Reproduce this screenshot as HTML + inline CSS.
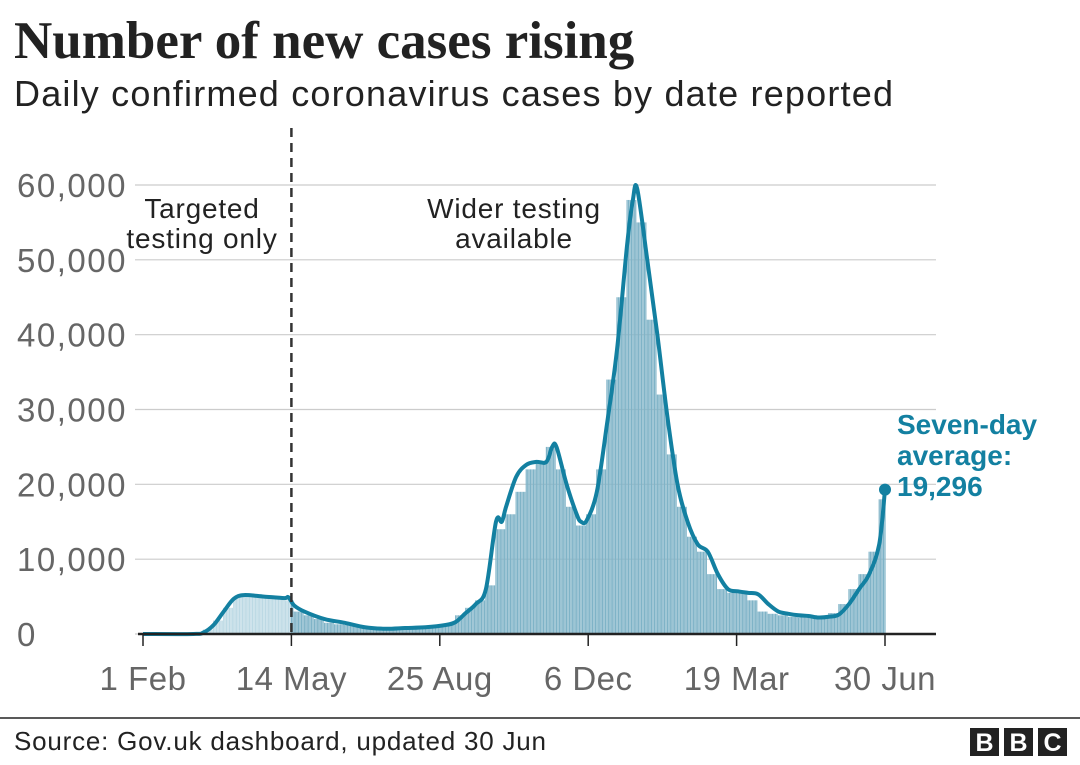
<!DOCTYPE html>
<html><head><meta charset="utf-8">
<style>
body{margin:0;background:#fff;width:1080px;height:760px;overflow:hidden;font-family:"Liberation Sans",sans-serif}
</style></head>
<body>
<svg id="chart" width="1080" height="760" xmlns="http://www.w3.org/2000/svg">
<text x="14" y="58" font-family="Liberation Serif,serif" font-weight="bold" font-size="53" fill="#222">Number of new cases rising</text>
<text x="14" y="106" font-size="36" fill="#222" textLength="879">Daily confirmed coronavirus cases by date reported</text>
<g id="grid"></g>
<g id="bars"></g>
<g id="line"></g>
<g id="axes"></g>
<line x1="0" y1="718" x2="1080" y2="718" stroke="#222" stroke-width="1.5"/>
<text x="14" y="750" font-size="26" fill="#222" textLength="532">Source: Gov.uk dashboard, updated 30 Jun</text>
<g>
<rect x="970" y="728" width="29" height="28" fill="#222"/><text x="984.5" y="751" font-size="25" font-weight="bold" fill="#fff" text-anchor="middle">B</text>
<rect x="1004" y="728" width="29" height="28" fill="#222"/><text x="1018.5" y="751" font-size="25" font-weight="bold" fill="#fff" text-anchor="middle">B</text>
<rect x="1038" y="728" width="29" height="28" fill="#222"/><text x="1052.5" y="751" font-size="25" font-weight="bold" fill="#fff" text-anchor="middle">C</text>
</g>
</svg>
<script>
const NS="http://www.w3.org/2000/svg";
const tickDays=[0,103,206,309,412,515];
const tickLabels=["1 Feb","14 May","25 Aug","6 Dec","19 Mar","30 Jun"];
const yTicks=[0,10000,20000,30000,40000,50000,60000];
const yTickLabels=["0","10,000","20,000","30,000","40,000","50,000","60,000"];
// weekly daily-case values (week k starts day 7k from 1 Feb 2020)
const weeklyCases=[0,0,0,0,0,100,600,1800,3500,5000,5200,5000,5000,4800,4500,3000,2500,2000,1500,1300,1200,1000,700,600,600,700,800,900,1000,1000,1300,2500,3500,4500,6500,14000,16000,19000,22000,23000,25000,22000,17000,14500,16000,22000,34000,45000,58000,55000,42000,32000,24000,17000,13000,11000,8000,6000,5500,5500,4500,3000,2700,2500,2300,2200,2200,2400,2800,4000,6000,8000,11000,18000];
// seven-day average points
const avgDays=[0,35,42,49,56,63,70,84,98,101,105,112,126,140,154,168,182,196,210,217,224,231,238,245,249,252,259,266,273,280,284,287,294,301,304,308,315,322,329,336,340,343,350,357,364,371,378,385,392,399,406,413,420,427,434,441,448,455,462,469,476,483,490,497,504,511,515];
const avgVals=[0,0,200,1200,3000,4700,5200,5000,4800,4900,3800,3000,2000,1500,900,700,800,900,1200,1600,2800,4000,6000,15000,15000,17000,21000,22600,23000,23000,25000,25000,20000,16000,15000,15200,19000,28000,38000,52000,58000,59500,50000,40000,29000,20000,15000,12000,11000,8000,6000,5700,5500,5300,4000,3000,2700,2500,2400,2200,2300,2600,4000,6000,8000,12000,19296];
const bgGrid=document.getElementById('grid'),gb=document.getElementById('bars'),gl=document.getElementById('line'),ga=document.getElementById('axes');
const X=d=>143+d*(742/515);
const Y=v=>634-v*(449/60000);
function el(t,a,p){const e=document.createElementNS(NS,t);for(const k in a)e.setAttribute(k,a[k]);p.appendChild(e);return e;}
yTicks.forEach((v,i)=>{
 const l=el('line',{x1:135,x2:936,y1:Y(v),y2:Y(v),stroke:'#ccc','stroke-width':1.2},bgGrid);
 
 
 const t=el('text',{x:17,y:Y(v)+12,'font-size':33,fill:'#666','letter-spacing':1.5},bgGrid);
 t.textContent=yTickLabels[i];
 
 
});
for(let d=0;d<=515;d++){
 const v=weeklyCases[Math.min(Math.floor(d/7),weeklyCases.length-1)];
 if(v<=0)continue;
 const r=el('rect',{x:X(d)-0.6,y:Y(v),width:1.2,height:634-Y(v),fill:d<103?'#bcd9e4':'#7fb3c7'},gb);
 
 
}
let pts=avgDays.map((d,i)=>[X(d),Y(avgVals[i])]);
let dstr='M'+pts[0][0]+','+pts[0][1];
for(let i=0;i<pts.length-1;i++){
 const p0=pts[Math.max(0,i-1)],p1=pts[i],p2=pts[i+1],p3=pts[Math.min(pts.length-1,i+2)];
 const c1=[p1[0]+(p2[0]-p0[0])/6,p1[1]+(p2[1]-p0[1])/6],c2=[p2[0]-(p3[0]-p1[0])/6,p2[1]-(p3[1]-p1[1])/6];
 dstr+=`C${c1[0]},${c1[1]} ${c2[0]},${c2[1]} ${p2[0]},${p2[1]}`;
}
const path=el('path',{d:dstr,fill:'none',stroke:'#1380a1','stroke-width':4,'stroke-linejoin':'round'},gl);


const last=pts[pts.length-1];
const dot=el('circle',{cx:last[0],cy:last[1],r:6,fill:'#1380a1'},gl);


const base=el('line',{x1:138,x2:936,y1:634,y2:634,stroke:'#222','stroke-width':2.5},ga);


tickDays.forEach((d,i)=>{
 const tk=el('line',{x1:X(d),x2:X(d),y1:634,y2:646,stroke:'#222','stroke-width':1.5},ga);
 
 
 const t=el('text',{x:X(d),y:690,'font-size':33,fill:'#666','text-anchor':'middle','letter-spacing':0.5},ga);
 t.textContent=tickLabels[i];
 
 
});
const dash=el('line',{x1:X(103),x2:X(103),y1:128,y2:634,stroke:'#333','stroke-width':2.5,'stroke-dasharray':'9,6'},ga);


function txt(lines,x,y,opts,name){
 const t=el('text',Object.assign({x:x,y:y},opts),ga);
 
 
 lines.forEach((s,i)=>{const ts=el('tspan',{x:x,dy:i?opts.lh:0},t);ts.textContent=s;});
}
txt(["Targeted","testing only"],202,218,{'font-size':28,fill:'#222','text-anchor':'middle','letter-spacing':0.8,lh:30},'targeted-testing-label');
txt(["Wider testing","available"],514,218,{'font-size':28,fill:'#222','text-anchor':'middle','letter-spacing':0.8,lh:30},'wider-testing-label');
txt(["Seven-day","average:","19,296"],897,434,{'font-size':28,'font-weight':'bold',fill:'#1380a1',lh:31},'average-annotation');
</script>
</body></html>
